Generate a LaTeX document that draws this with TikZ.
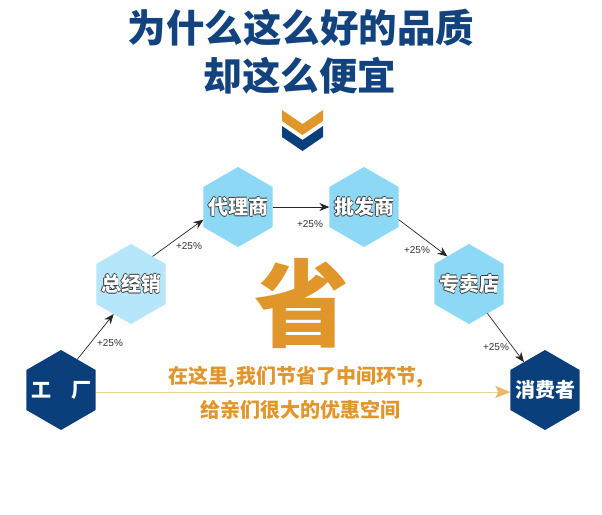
\documentclass[tikz,border=0pt]{standalone}
\usepackage{fontspec}
\usetikzlibrary{shapes.geometric,arrows.meta}
\newfontfamily\cjk{Noto Sans CJK SC}
\newfontfamily\latf{Liberation Sans}
\definecolor{navy}{HTML}{0B3F7C}
\definecolor{titleblue}{HTML}{12437F}
\definecolor{hexlight}{HTML}{B5E6F9}
\definecolor{hexblue}{HTML}{8DD8F4}
\definecolor{orangetxt}{HTML}{E0962B}
\definecolor{orangeline}{HTML}{F0D09A}
\definecolor{orangehead}{HTML}{EAB866}
\definecolor{outlinec}{HTML}{3A3A3A}
\newcommand\olay[3]{\rlap{\kern#1\raisebox{#2}{\textcolor{outlinec}{#3}}}}
\newcommand\outl[1]{\olay{-0.9pt}{0pt}{#1}\olay{0.9pt}{0pt}{#1}\olay{0pt}{0.9pt}{#1}\olay{0pt}{-0.9pt}{#1}\textcolor{white}{#1}}
\newcommand\hx[1]{\makebox[0pt][c]{#1}}
\tikzset{
  hexbase/.style={regular polygon, regular polygon sides=6, shape border rotate=30,
    minimum size=80pt, inner sep=0pt, outer sep=0pt,
    text height=15.5pt, text depth=0pt,
    font=\cjk\bfseries\fontsize{20}{20}\selectfont},
  hexdark/.style={hexbase, fill=navy, text=white},
  hexpale/.style={hexbase, fill=hexlight},
  hexsky/.style={hexbase, fill=hexblue},
  arr/.style={-{Stealth[length=10pt,width=8pt]}, line width=0.7pt, draw=black!85},
  oarr/.style={-{Stealth[length=15pt,width=12pt,inset=3pt,color=orangehead]}, line width=1pt, draw=orangeline},
  pct/.style={font=\latf\fontsize{10}{10}\selectfont, text=black!80, inner sep=0pt},
  titlef/.style={font=\cjk\bfseries\fontsize{38.5}{38.5}\selectfont, text=titleblue, inner sep=0pt},
  savef/.style={font=\cjk\bfseries\fontsize{20}{20}\selectfont, text=orangetxt, inner sep=0pt},
  bigf/.style={font=\cjk\bfseries\fontsize{95}{95}\selectfont, text=orangetxt, inner sep=0pt}
}
\begin{document}
\begin{tikzpicture}[x=1pt,y=-1pt]
\fill[white] (0,0) rectangle (602,514);
\useasboundingbox (0,0) rectangle (602,514);
% title
\node[titlef] (t1) at (301,28) {为什么这么好的品质};
\node[titlef] (t2) at (300,76) {却这么便宜};
% chevrons
\fill[orangetxt] (282,110) -- (302.5,124) -- (323,110) -- (323,121) -- (302.5,135) -- (282,121) -- cycle;
\fill[navy] (282,126) -- (302.5,140) -- (323,126) -- (323,137) -- (302.5,151) -- (282,137) -- cycle;
% big character
\node[bigf] (sheng) at (302,303) {省};
% hexagons
\node[hexdark] (f) at (61,390) {\hx{工\quad 厂}};
\node[hexpale] (z) at (131,284) {\hx{\outl{总经销}}};
\node[hexsky] (d) at (238,207) {\hx{\outl{代理商}}};
\node[hexsky] (p) at (364,207) {\hx{\outl{批发商}}};
\node[hexsky] (s) at (469,284) {\hx{\outl{专卖店}}};
\node[hexdark] (c) at (545,390) {\hx{消费者}};
% arrows
\draw[arr] (f.62) -- (z.240);
\draw[arr] (z.52) -- (d.200);
\draw[arr] (d.0) -- (p.180);
\draw[arr] (p.340) -- (s.128);
\draw[arr] (s.302) -- (c.127);
% percentages
\node[pct] (l1) at (110,343) {+25\%};
\node[pct] (l2) at (189,246) {+25\%};
\node[pct] (l3) at (310,224) {+25\%};
\node[pct] (l4) at (417,250) {+25\%};
\node[pct] (l5) at (496,347) {+25\%};
% orange arrow and text
\draw[oarr] ([yshift=-2pt]f.0) -- ([yshift=-2pt]c.180);
\node[savef] (m1) at (296,377) {在这里,我们节省了中间环节,};
\node[savef] (m2) at (300,410) {给亲们很大的优惠空间};
\end{tikzpicture}
\end{document}
